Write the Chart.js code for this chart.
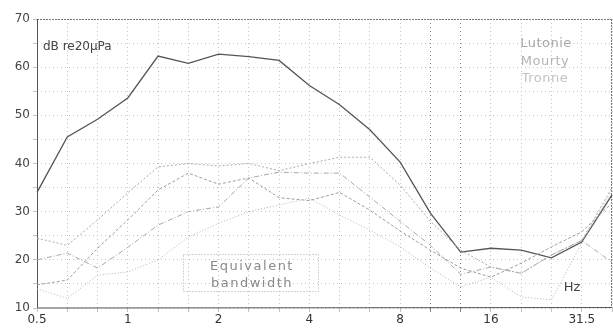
<!DOCTYPE html>
<html>
<head>
<meta charset="utf-8">
<script src="https://cdn.jsdelivr.net/npm/chart.js@4.4.1/dist/chart.umd.min.js"></script>
<style>
html, body { margin: 0; padding: 0; background: #fff; }
#wrap { width: 613px; height: 328px; }
</style>
</head>
<body>
<div id="wrap"><canvas id="myChart" width="613" height="328"></canvas></div>
<script>
// 1/3 octave band centres, Hz
const bands = ['0.5', '0.63', '0.8', '1', '1.25', '1.6', '2', '2.5', '3.15', '4', '5', '6.3', '8', '10', '12.5', '16', '20', '25', '31.5', '40'];
const xLabels = ['0.5', '1', '2', '4', '8', '16', '31.5'];
const yLabels = [10, 20, 30, 40, 50, 60, 70];

// levels, dB re 20 uPa
const overall = [34, 45.5, 49.2, 53.6, 62.3, 60.8, 62.7, 62.2, 61.4, 56.2, 52.2, 47, 40.3, 29.7, 21.6, 22.4, 22, 20.4, 23.7, 33.5];
const seriesP = [24.5, 23, 28.3, 33.9, 39.3, 40, 39.5, 40, 38.5, 40, 41.3, 41.3, 35.5, 28, 22, 18.5, 17.2, 21, 24, 35];
const seriesQ = [14.8, 15.8, 22.4, 28.3, 34.5, 38, 35.7, 37, 32.9, 32.3, 34, 30.3, 26, 22, 18.3, 16.4, 19.3, 22.7, 25.8, 31.8];
const seriesR = [20, 21.4, 18.3, 22.6, 27.2, 30, 31, 37, 38.2, 38, 38, 33, 28, 23, 17, 18.5, 17.2, 21, 24, 19.5];
const seriesS = [14, 12, 16.8, 17.5, 20, 24.7, 27.6, 30, 31.4, 32.8, 29.3, 26.2, 22.7, 18.3, 14.4, 16.4, 12.3, 11.7, 23.5, 34.5];

function line(label, data, color, width, dash) {
    return {
        label: label,
        data: data,
        borderColor: color,
        borderWidth: width,
        borderDash: dash,
        pointRadius: 0,
        tension: 0,
        fill: false
    };
}

// frame and the free texts
const extras = {
    id: 'extras',
    beforeDatasetsDraw(chart) {
        const ctx = chart.ctx;
        const a = chart.chartArea;
        ctx.save();
        ctx.strokeStyle = '#777';
        ctx.lineWidth = 1;
        ctx.setLineDash([2, 1]);
        ctx.beginPath();
        ctx.moveTo(a.left, a.top + 0.5);
        ctx.lineTo(a.right, a.top + 0.5);
        ctx.moveTo(a.right - 0.5, a.top);
        ctx.lineTo(a.right - 0.5, a.bottom);
        ctx.stroke();
        ctx.setLineDash([]);
        ctx.strokeStyle = '#555';
        ctx.beginPath();
        ctx.moveTo(a.left + 0.5, a.top);
        ctx.lineTo(a.left + 0.5, a.bottom);
        ctx.lineTo(a.right, a.bottom - 0.5);
        ctx.stroke();

        // equivalent bandwidth box
        ctx.strokeStyle = '#aaa';
        ctx.setLineDash([1, 2]);
        ctx.strokeRect(183.5, 254.5, 135, 37);
        ctx.setLineDash([]);
        ctx.restore();
    },
    afterDatasetsDraw(chart) {
        const ctx = chart.ctx;
        ctx.save();
        ctx.textBaseline = 'middle';
        ctx.font = '12px "DejaVu Sans"';
        ctx.fillStyle = '#444';
        ctx.textAlign = 'left';
        ctx.fillText('dB re20\u00b5Pa', 43, 47);

        ctx.font = '13px "DejaVu Sans"';
        ctx.textAlign = 'center';
        ctx.letterSpacing = '0.5px';
        ctx.fillStyle = '#a8a8a8';
        ctx.fillText('Lutonie', 546, 44);
        ctx.fillStyle = '#b4b4b4';
        ctx.fillText('Mourty', 545, 62);
        ctx.fillStyle = '#c4c4c4';
        ctx.fillText('Tronne', 545, 79);

        ctx.fillStyle = '#8a8a8a';
        ctx.font = '13px "DejaVu Sans"';
        ctx.letterSpacing = '1.5px';
        ctx.fillText('Equivalent', 252, 267);
        ctx.fillText('bandwidth', 252, 284);
        ctx.letterSpacing = '0px';

        ctx.fillStyle = '#444';
        ctx.font = '13px "DejaVu Sans"';
        ctx.fillText('Hz', 572, 288);
        ctx.restore();
    }
};

window.onload = function() {
    const ctx = document.getElementById('myChart').getContext('2d');
    new Chart(ctx, {
        type: 'line',
        data: {
            labels: bands,
            datasets: [
                line('S', seriesS, '#b4b4b4', 1, [1, 2]),
                line('R', seriesR, '#a8a8a8', 1, [5, 2, 1, 2]),
                line('Q', seriesQ, '#9e9e9e', 1, [3, 2]),
                line('P', seriesP, '#aaaaaa', 1, [2, 2]),
                line('Overall', overall, '#555555', 1.3, [])
            ]
        },
        options: {
            responsive: false,
            animation: false,
            devicePixelRatio: 1,
            layout: { padding: { top: 19, right: 1, left: 0, bottom: 0 } },
            plugins: {
                legend: { display: false },
                tooltip: { enabled: false }
            },
            scales: {
                x: {
                    type: 'category',
                    offset: false,
                    border: { display: false, dash: [1, 3] },
                    grid: {
                        color: (c) => (c.index === 13 || c.index === 14) ? '#888' : '#c4c4c4',
                        lineWidth: 1,
                        tickLength: 4,
                        drawTicks: true
                    },
                    ticks: {
                        autoSkip: false,
                        maxRotation: 0,
                        padding: 1,
                        color: '#333',
                        font: { family: 'DejaVu Sans', size: 12 },
                        callback: function(v, i) {
                            const l = bands[i];
                            return xLabels.includes(l) ? l : '';
                        }
                    },
                    afterFit: (s) => { s.height = 20; }
                },
                y: {
                    min: 10,
                    max: 70,
                    border: { display: false, dash: [1, 3] },
                    grid: {
                        color: '#c4c4c4',
                        tickLength: 4
                    },
                    ticks: {
                        stepSize: 5,
                        padding: 3,
                        color: '#444',
                        font: { family: 'DejaVu Sans', size: 12 },
                        callback: (v) => yLabels.includes(v) ? String(v) : ''
                    },
                    afterFit: (s) => { s.width = 37; }
                }
            }
        },
        plugins: [extras]
    });
};
</script>
</body>
</html>
